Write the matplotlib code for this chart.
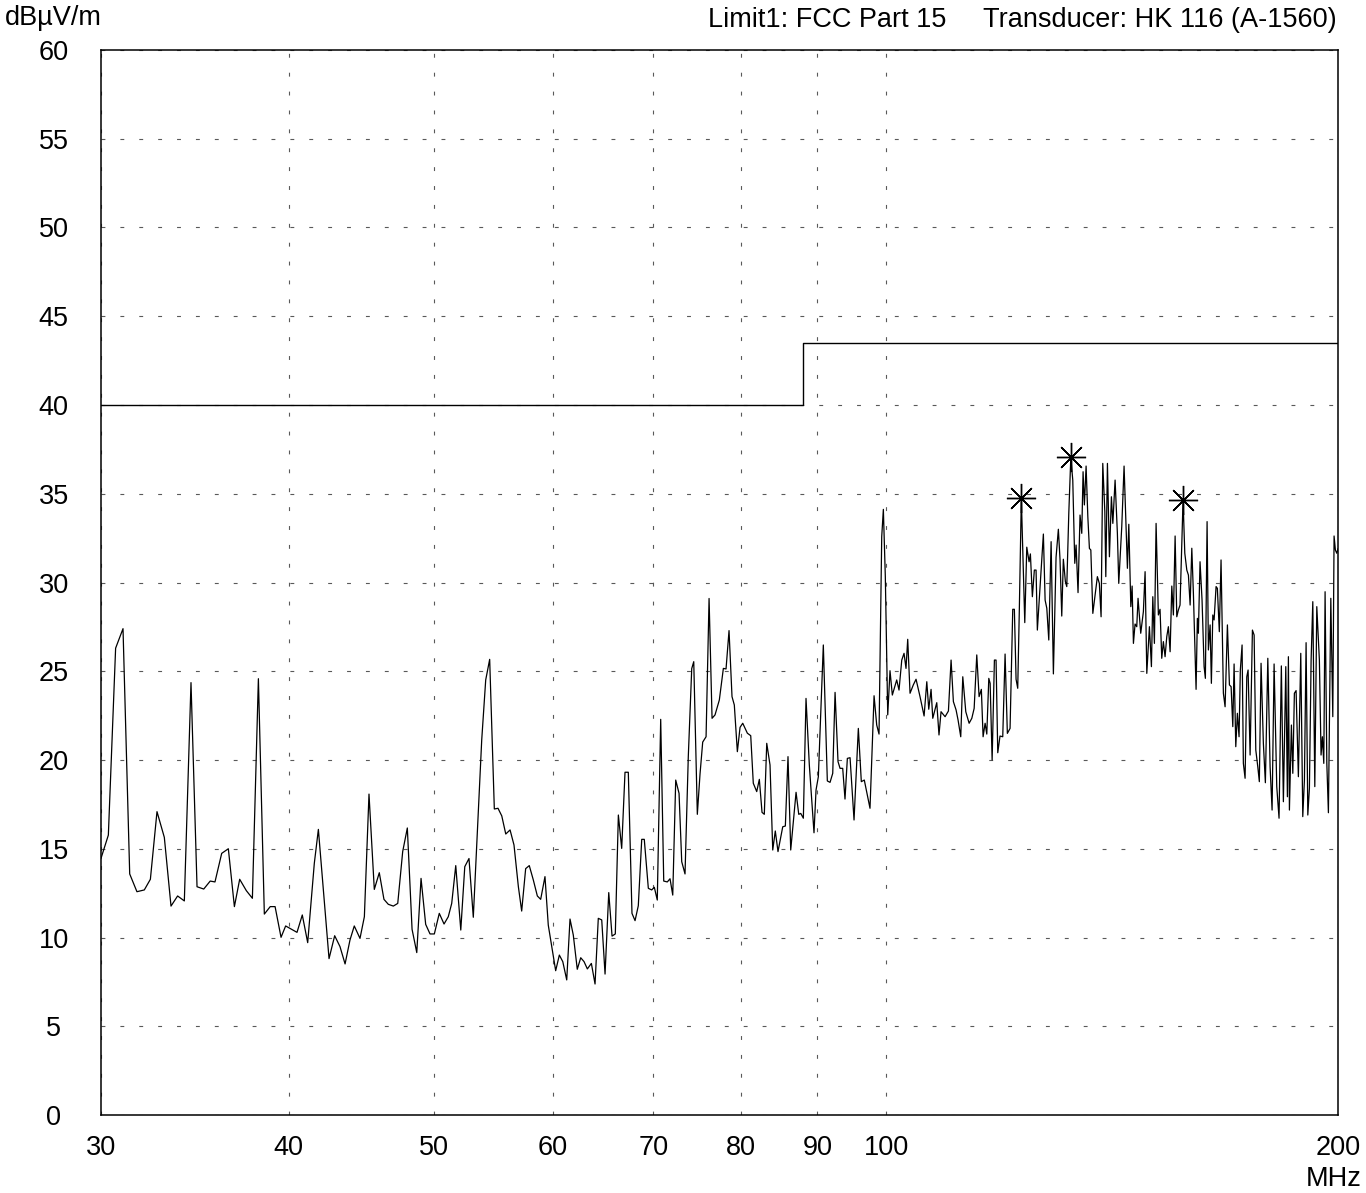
import matplotlib
matplotlib.use("Agg")
import matplotlib.pyplot as plt
from matplotlib.ticker import NullLocator, NullFormatter

plt.rcParams['font.family'] = ['Liberation Sans', 'DejaVu Sans']

# measured trace (MHz, dBuV/m)
freq_mhz = [
    30.00, 30.34, 30.68, 31.03, 31.35, 31.70, 32.06, 32.36, 32.69, 33.06,
    33.40, 33.74, 34.09, 34.44, 34.76, 35.12, 35.47, 35.73, 36.10, 36.47,
    36.81, 37.11, 37.49, 37.84, 38.19, 38.54, 38.89, 39.18, 39.54, 39.82,
    40.19, 40.52, 40.85, 41.19, 41.61,
    41.87, 42.56, 42.93, 43.28, 43.62, 43.95, 44.24, 44.63, 44.93, 45.25,
    45.62, 45.97, 46.30, 46.61, 46.97, 47.29, 47.65, 47.99, 48.34, 48.69,
    49.01, 49.36, 49.69, 50.02, 50.40, 50.77, 51.10, 51.37, 51.69, 52.09,
    52.41, 52.75, 53.10, 53.79, 54.12, 54.45, 54.84, 55.15, 55.47, 55.81,
    56.18, 56.52,
    56.90, 57.19, 57.54, 57.86, 58.22, 58.58, 58.88, 59.27, 59.57, 59.89,
    60.25, 60.59, 60.91, 61.28, 61.59, 61.90, 62.28, 62.61, 62.93, 63.25,
    63.64, 64.00, 64.32, 64.66, 64.99, 65.36, 65.69, 66.02, 66.33, 66.67,
    67.01, 67.35, 67.73, 68.05, 68.39, 68.75, 69.02, 69.45, 69.81, 70.09,
    70.41, 70.78, 71.11, 71.50, 71.80, 72.10, 72.43, 72.80, 73.10, 73.47,
    73.84, 74.23, 74.46, 74.87, 75.18, 75.49, 75.88, 76.23, 76.58, 76.93,
    77.44,
    77.92, 78.24, 78.60, 78.96, 79.24, 79.61, 79.94, 80.27, 80.84, 81.26,
    81.58, 82.01, 82.34, 82.68, 82.97, 83.28, 83.70, 84.05, 84.38, 84.73,
    85.35, 85.69, 86.04, 86.40, 87.11, 87.47, 87.74, 88.09, 88.45, 88.90,
    89.54, 89.82, 90.14, 90.83, 91.39, 91.77, 92.15, 92.48, 92.90, 93.19,
    93.57, 93.90, 94.24, 94.63, 95.21, 95.84, 96.28, 96.72, 97.57, 98.18,
    98.58, 98.93, 99.34, 99.59, 99.89, 100.26, 100.61, 100.97, 101.65, 102.01,
    102.44, 102.80, 103.11, 103.38, 103.75, 104.27, 104.71,
    105.35, 106.01, 106.45, 106.77, 107.15, 107.43, 108.09, 108.46, 108.80, 109.48,
    110.04, 110.49, 110.88, 111.34, 111.68, 112.14, 112.49, 113.01, 113.59, 114.06,
    114.47, 114.93, 115.34, 115.74, 116.05, 116.41, 116.71, 117.07, 117.31, 117.67,
    118.08, 118.38, 118.69, 119.10, 119.60, 120.03, 120.45, 120.95, 121.45, 121.75,
    122.07, 122.38, 122.68, 123.06, 123.71, 124.09, 124.53, 124.78, 125.16, 125.54,
    125.87, 126.12, 126.64, 127.29, 127.63, 127.96, 128.35, 128.81, 129.26, 129.79,
    130.25, 130.58, 130.93, 131.25, 131.66, 131.94, 132.35, 132.76, 133.16, 133.57,
    133.84, 134.24, 134.65, 135.01, 135.28, 135.55, 135.91, 136.27, 136.60, 136.90,
    137.32, 137.80, 138.28, 138.70, 139.07, 139.43, 139.87, 140.08, 140.43, 140.86,
    141.29, 141.60, 142.09, 142.59, 142.89,
    143.55, 144.06, 144.80, 145.11, 145.56, 145.85, 146.14, 146.51, 146.89, 147.18,
    147.79, 148.39, 148.78, 149.17, 149.77, 150.23, 150.55, 150.92, 151.31, 151.84,
    152.23, 152.63, 153.01, 153.41, 153.81, 154.19, 154.60, 155.00, 155.38, 155.79,
    156.19, 156.57, 156.97, 157.29, 157.70, 158.12, 158.61, 159.00, 159.42, 159.83,
    160.22, 160.64, 160.88, 161.20, 161.45, 161.86, 162.36, 162.87, 163.19, 163.62,
    163.95, 164.38, 164.70, 165.06, 165.39, 165.89, 166.22, 166.72, 167.16, 167.76,
    168.20, 168.80, 169.32, 169.76, 170.20, 170.54, 170.98, 171.40, 171.84, 172.18,
    172.64, 172.98, 173.44, 173.89, 174.24, 174.78, 175.40, 175.86, 176.31, 176.85,
    177.27, 177.74, 178.37, 178.92, 179.59, 180.22, 180.77, 181.33, 182.07, 182.71,
    183.36, 183.93, 184.61, 185.07, 185.35, 185.64, 186.21, 186.61, 187.06, 187.55,
    188.21, 188.90, 189.48, 189.96, 190.45, 190.95, 191.42, 191.92, 192.42, 193.01,
    193.60, 194.37, 194.87, 195.27, 195.69, 196.08, 196.60, 197.08, 197.81, 198.41,
    198.80, 199.20, 199.62, 200.00,
]
level_dbuv = [
    14.46, 15.77, 26.30, 27.40, 13.58, 12.58, 12.68, 13.28, 17.09, 15.64,
    11.77, 12.34, 12.06, 24.36, 12.86, 12.73, 13.18, 13.13, 14.74, 15.00,
    11.74, 13.28, 12.64, 12.21, 24.58, 11.32, 11.74, 11.74, 10.01, 10.65,
    10.46, 10.29, 11.27, 9.71, 14.18,
    16.09, 8.81, 10.10, 9.49, 8.51, 9.86, 10.65, 9.95, 11.17, 18.08,
    12.71, 13.65, 12.15, 11.87, 11.77, 11.92, 14.84, 16.17, 10.46, 9.15,
    13.33, 10.74, 10.20, 10.20, 11.36, 10.76, 11.17, 11.92, 14.05, 10.42,
    13.99, 14.45, 11.14, 21.13, 24.51, 25.67, 17.24, 17.28, 16.85, 15.83,
    16.06, 15.21,
    12.86, 11.49, 13.88, 14.05, 13.24, 12.34, 12.15, 13.43, 10.70, 9.49,
    8.13, 9.01, 8.64, 7.61, 11.04, 10.14, 8.21, 8.86, 8.64, 8.23,
    8.54, 7.38, 11.08, 10.99, 7.94, 12.53, 10.08, 10.20, 16.90, 15.02,
    19.31, 19.31, 11.36, 10.95, 11.79, 15.53, 15.53, 12.77, 12.68, 12.83,
    12.11, 22.29, 13.18, 13.13, 13.31, 12.39, 18.87, 18.12, 14.27, 13.58,
    20.19, 25.15, 25.54, 16.94, 19.21, 21.01, 21.31, 29.10, 22.35, 22.54,
    23.38,
    25.16, 25.13, 27.29, 23.57, 23.10, 20.47, 21.84, 22.07, 21.51, 21.37,
    18.69, 18.22, 18.91, 17.05, 16.94, 20.94, 19.72, 14.93, 16.00, 14.84,
    16.24, 16.28, 20.19, 14.93, 18.18, 16.94, 16.99, 16.72, 23.47, 19.72,
    15.90, 18.31, 19.06, 26.48, 18.82, 18.74, 19.25, 23.81, 19.91, 19.53,
    19.53, 17.80, 20.09, 20.13, 16.62, 21.78, 18.78, 18.87, 17.28, 23.62,
    21.97, 21.46, 32.58, 34.12, 30.33, 22.54, 25.03, 23.66, 24.51, 23.94,
    25.63, 26.01, 25.16, 26.80, 23.76, 24.23, 24.55,
    23.57, 22.48, 24.41, 22.86, 23.98, 22.35, 23.23, 21.41, 22.72, 22.44,
    22.76, 25.63, 23.29, 22.82, 22.25, 21.31, 24.69, 22.72, 22.07, 22.35,
    22.91, 25.92, 23.57, 23.98, 21.31, 22.07, 21.46, 24.60, 24.32, 20.00,
    25.63, 25.63, 20.41, 21.35, 21.31, 25.97, 21.50, 21.78, 28.49, 28.49,
    24.55, 24.04, 28.45, 34.74, 27.74, 31.99, 31.17, 31.61, 29.20, 30.70,
    30.70, 27.32, 29.77, 32.73, 29.01, 28.55, 26.76, 32.30, 24.85, 31.42,
    33.00, 31.31, 28.11, 31.31, 30.05, 29.77, 33.90, 37.05, 35.77, 31.08,
    32.11, 29.43, 33.80, 32.77, 36.24, 34.37, 36.56, 33.71, 31.92, 31.83,
    28.26, 29.30, 30.33, 29.95, 28.07, 36.71, 33.99, 30.33, 36.71, 31.45,
    34.83, 33.33, 35.77, 32.77, 29.95,
    33.15, 36.56, 30.80, 33.28, 28.64, 29.80, 26.57, 27.66, 27.51, 29.11,
    27.14, 28.36, 30.61, 24.88, 27.51, 25.26, 29.20, 26.57, 33.33, 28.17,
    28.49, 25.73, 26.67, 25.82, 26.95, 27.51, 26.10, 29.80, 28.17, 32.62,
    28.07, 28.45, 28.73, 31.36, 34.65, 31.65, 30.70, 30.42, 28.73, 31.93,
    29.39, 26.01, 23.98, 27.98, 27.14, 31.17, 29.01, 25.26, 24.60, 33.43,
    26.20, 27.61, 24.32, 28.17, 27.89, 29.77, 29.67, 27.23, 31.27, 23.76,
    23.00, 27.61, 24.23, 24.13, 21.88, 25.41, 20.75, 22.63, 21.31, 25.07,
    26.48, 19.81, 18.97, 24.69, 25.07, 20.28, 27.32, 27.04, 20.56, 19.62,
    18.78, 25.45, 20.94, 18.72, 25.73, 19.62, 17.18, 25.41, 18.50, 16.72,
    25.30, 17.65, 25.26, 17.93, 25.82, 17.18, 21.97, 19.25, 23.76, 23.91,
    19.06, 26.01, 16.81, 18.87, 26.61, 16.90, 18.40, 25.63, 28.92, 18.50,
    28.64, 25.63, 20.28, 21.31, 19.81, 29.48, 19.81, 17.03, 29.11, 22.44,
    32.62, 31.83, 31.65, 31.90,
]

# limit line FCC Part 15
limit_freq = [30, 88, 88, 200]
limit_level = [40, 40, 43.5, 43.5]

# marked peaks
peak_freq = [123.06, 132.76, 157.70]
peak_level = [34.74, 37.05, 34.65]

x_ticks = [30, 40, 50, 60, 70, 80, 90, 100, 200]
y_ticks = list(range(0, 61, 5))

fig = plt.figure(figsize=(13.66, 11.93), dpi=100)
ax = fig.add_axes([0.07394, 0.06538, 0.90556, 0.89271])

ax.plot(freq_mhz, level_dbuv, color='black', lw=0.9)
ax.plot(limit_freq, limit_level, color='black', lw=1.0)
ax.plot(peak_freq, peak_level, ls='none', marker=(8, 2, 0), ms=21,
        mec='black', mew=1.0)

ax.set_xscale('log')
ax.set_xlim(30, 200)
ax.set_ylim(0, 60)
ax.xaxis.set_minor_locator(NullLocator())
ax.xaxis.set_minor_formatter(NullFormatter())
ax.set_xticks(x_ticks)
ax.set_xticklabels([str(t) for t in x_ticks])
ax.set_yticks(y_ticks)
ax.set_yticklabels([str(t) for t in y_ticks])
ax.tick_params(axis='both', length=0, labelsize=19.5)
ax.tick_params(axis='y', pad=34)
ax.tick_params(axis='x', pad=14.5)
for lab in ax.get_yticklabels():
    lab.set_horizontalalignment('center')

ax.grid(True, color='0.35', lw=0.8, linestyle=(0, (3.5, 13.5)))
for sp in ax.spines.values():
    sp.set_linewidth(1.1)
    sp.set_color('black')

fig.text(5 / 1366, 1 - 18 / 1193, 'dBµV/m', fontsize=19.5, va='center', ha='left')
fig.text(946 / 1366, 1 - 20 / 1193, 'Limit1: FCC Part 15', fontsize=19.5,
         va='center', ha='right')
fig.text(1337 / 1366, 1 - 20 / 1193, 'Transducer: HK 116 (A-1560)', fontsize=19.5,
         va='center', ha='right')
fig.text(1362 / 1366, 1 - 1179 / 1193, 'MHz', fontsize=19.5, va='center', ha='right')

fig.savefig('out.png', dpi=100)
